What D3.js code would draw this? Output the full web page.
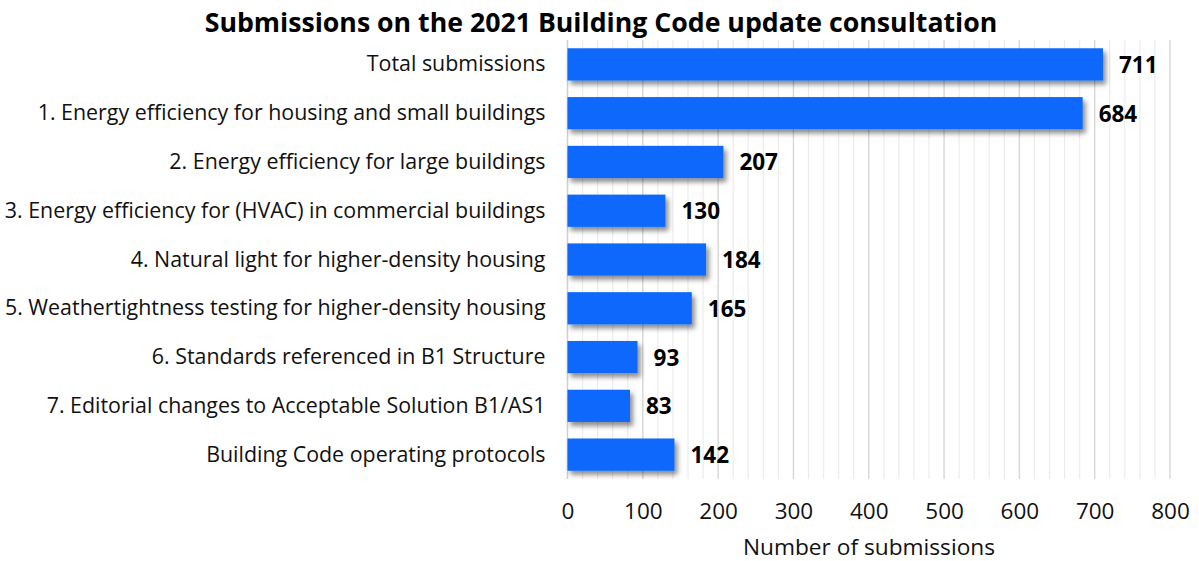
<!DOCTYPE html>
<html>
<head>
<meta charset="utf-8">
<script src="https://cdn.jsdelivr.net/npm/d3@7"></script>
<style>
  html, body { margin: 0; padding: 0; background: #fff; }
  svg { display: block; font-family: "Open Sans", Lato, sans-serif; }
</style>
</head>
<body>
<svg id="chart" width="1199" height="561"></svg>
<script>
const categories = [
  "Total submissions",
  "1. Energy efficiency for housing and small buildings",
  "2. Energy efficiency for large buildings",
  "3. Energy efficiency for (HVAC) in commercial buildings",
  "4. Natural light for higher-density housing",
  "5. Weathertightness testing for higher-density housing",
  "6. Standards referenced in B1 Structure",
  "7. Editorial changes to Acceptable Solution B1/AS1",
  "Building Code operating protocols"
];
const submissions = [711, 684, 207, 130, 184, 165, 93, 83, 142];
const xTicks = [0, 100, 200, 300, 400, 500, 600, 700, 800];
const chartTitle = "Submissions on the 2021 Building Code update consultation";
const xAxisTitle = "Number of submissions";

const svg = d3.select("#chart");
const margin = { top: 40, right: 29, bottom: 82, left: 567.5 };
const W = 1199, H = 561;
const innerW = W - margin.left - margin.right;
const innerH = H - margin.top - margin.bottom;

const x = d3.scaleLinear().domain([0, 800]).range([0, innerW]);
const y = d3.scaleBand().domain(categories).range([0, innerH]).paddingInner(0.34).paddingOuter(0.17);

// drop shadow for bars
const defs = svg.append("defs");
const f = defs.append("filter").attr("id", "shadow").attr("x", "-10%").attr("y", "-30%").attr("width", "130%").attr("height", "180%");
f.append("feDropShadow").attr("dx", 3).attr("dy", 4).attr("stdDeviation", 2.5)
  .attr("flood-color", "#000").attr("flood-opacity", 0.45);

const g = svg.append("g").attr("transform", `translate(${margin.left},${margin.top})`);

// minor and major vertical gridlines
const minor = d3.range(20, 801, 20).filter(v => v % 100 !== 0);
g.append("g").selectAll("line").data(minor).join("line")
  .attr("x1", d => x(d)).attr("x2", d => x(d))
  .attr("y1", 0).attr("y2", innerH)
  .attr("stroke", "#ececec").attr("stroke-width", 1.2);
g.append("g").selectAll("line").data(xTicks.slice(1)).join("line")
  .attr("x1", d => x(d)).attr("x2", d => x(d))
  .attr("y1", 0).attr("y2", innerH)
  .attr("stroke", "#d6d6d6").attr("stroke-width", 1.4);

// category axis line
g.append("line").attr("x1", 0).attr("x2", 0).attr("y1", 0).attr("y2", innerH)
  .attr("stroke", "#d0d0d0").attr("stroke-width", 1.5);

// bars
g.append("g").selectAll("rect").data(submissions).join("rect")
  .attr("x", 0)
  .attr("y", (d, i) => y(categories[i]))
  .attr("width", d => x(d))
  .attr("height", y.bandwidth())
  .attr("fill", "#0868fb")
  .attr("filter", "url(#shadow)");

// value labels
g.append("g").selectAll("text").data(submissions).join("text")
  .attr("x", d => x(d) + 16)
  .attr("y", (d, i) => y(categories[i]) + y.bandwidth() / 2 + 8.5)
  .attr("font-size", 22.5).attr("font-weight", "bold").attr("fill", "#000")
  .text(d => d);

// category labels
g.append("g").selectAll("text").data(categories).join("text")
  .attr("x", -22)
  .attr("y", d => y(d) + y.bandwidth() / 2 + 7)
  .attr("text-anchor", "end")
  .attr("font-size", 21.4).attr("fill", "#111")
  .text(d => d);

// x axis
const xAxis = d3.axisBottom(x).tickValues(xTicks).tickSize(0).tickPadding(24);
const ax = g.append("g").attr("transform", `translate(0,${innerH})`).call(xAxis);
ax.select(".domain").remove();
ax.selectAll("text").attr("font-size", 22.5).attr("fill", "#111").attr("font-family", "'Open Sans', sans-serif");

// axis title
svg.append("text")
  .attr("x", 869).attr("y", 555)
  .attr("text-anchor", "middle").attr("font-size", 22.7).attr("fill", "#111")
  .text(xAxisTitle);

// chart title
svg.append("text")
  .attr("x", 601).attr("y", 32)
  .attr("text-anchor", "middle").attr("font-size", 26.7).attr("font-weight", "bold").attr("fill", "#000")
  .text(chartTitle);
</script>
</body>
</html>
